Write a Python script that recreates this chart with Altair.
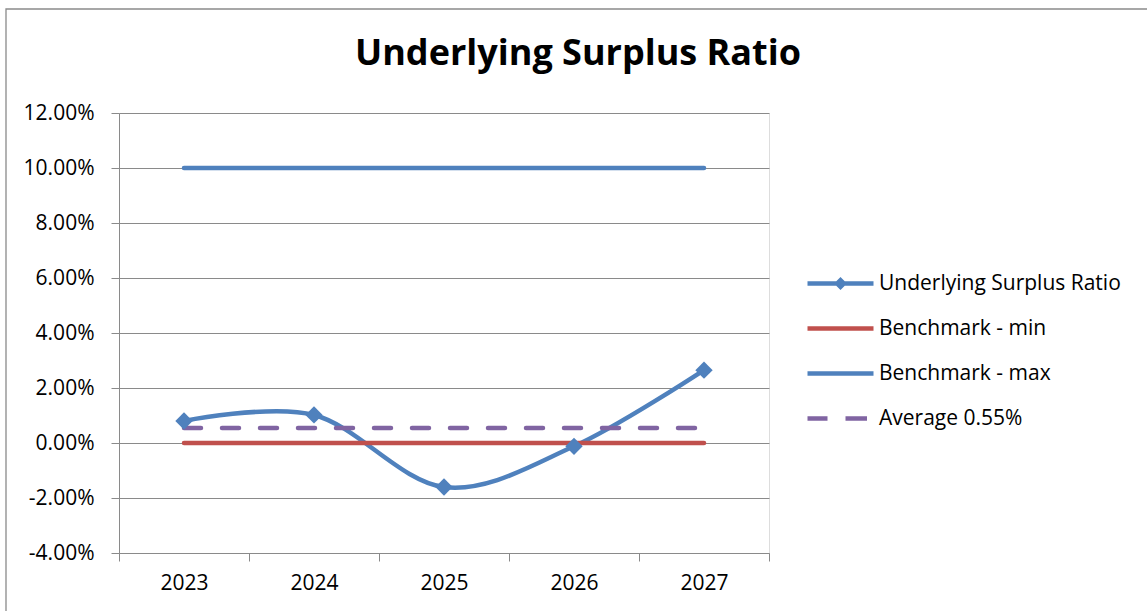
import altair as alt
import pandas as pd

# ---- data -------------------------------------------------------------
years = ["2023", "2024", "2025", "2026", "2027"]
surplus_ratio = [0.0080, 0.0102, -0.0160, -0.0012, 0.0265]
benchmark_min = [0.0, 0.0, 0.0, 0.0, 0.0]
benchmark_max = [0.10, 0.10, 0.10, 0.10, 0.10]
average_value = 0.0055
average_line = [average_value] * len(years)

series_names = [
    "Underlying Surplus Ratio",
    "Benchmark - min",
    "Benchmark - max",
    f"Average {average_value:.2%}",
]
series_values = [surplus_ratio, benchmark_min, benchmark_max, average_line]
series_colors = ["#4F81BD", "#C0504D", "#4F81BD", "#8064A2"]

# legend keys drawn as custom symbol paths (line + diamond, plain lines, dashes)
legend_paths = [
    "M-6.6,-0.45L6.6,-0.45L6.6,0.45L-6.6,0.45Z M0,-1.3L1.3,0L0,1.3L-1.3,0Z",
    "M-6.6,-0.45L6.6,-0.45L6.6,0.45L-6.6,0.45Z",
    "M-6.6,-0.45L6.6,-0.45L6.6,0.45L-6.6,0.45Z",
    "M-6.6,-0.45L-2.6,-0.45L-2.6,0.45L-6.6,0.45Z M1.0,-0.45L5.3,-0.45L5.3,0.45L1.0,0.45Z",
]

rows = []
for name, vals in zip(series_names, series_values):
    for yr, v in zip(years, vals):
        rows.append({"year": yr, "series": name, "value": v})
df = pd.DataFrame(rows)

FONT = "Open Sans"
GRAY = "#8A8A8A"

x_scale = alt.Scale(type="band", domain=years, paddingInner=0, paddingOuter=0)
y_scale = alt.Scale(domain=[-0.04, 0.12], nice=False, zero=False)
color_scale = alt.Scale(domain=series_names, range=series_colors)

x_axis = alt.Axis(
    title=None, labelAngle=0, tickBand="extent", tickSize=8, tickColor=GRAY,
    domainColor=GRAY, labelFont=FONT, labelFontSize=21, labelColor="black",
    labelPadding=11, grid=False,
)
y_axis = alt.Axis(
    title=None, format=".2%", values=[-0.04, -0.02, 0, 0.02, 0.04, 0.06, 0.08, 0.10, 0.12],
    labelExpr="replace(datum.label, '\u2212', '-')",
    tickSize=8, tickColor=GRAY, domainColor=GRAY, grid=True, gridColor=GRAY,
    labelFont=FONT, labelFontSize=21, labelColor="black", labelPadding=17,
)

X = alt.X("year:N", scale=x_scale, axis=x_axis, sort=years)
Y = alt.Y("value:Q", scale=y_scale, axis=y_axis)


def series_line(i, **style):
    """One series as its own line layer with fixed colour."""
    return alt.Chart(df).transform_filter(
        alt.datum.series == series_names[i]
    ).mark_line(strokeWidth=4.5, strokeCap="round", color=series_colors[i], **style).encode(
        x=X, y=Y
    )


ratio_line = series_line(0, interpolate="cardinal")
min_line = series_line(1)
max_line = series_line(2)
avg_line = series_line(3, strokeDash=[17, 21])

markers = alt.Chart(df).transform_filter(
    alt.datum.series == series_names[0]
).mark_point(
    shape="diamond", filled=True, size=300, opacity=1, color=series_colors[0]
).encode(x=X, y=Y)

legend_kwargs = dict(
    title=None, orient="none", legendX=711, legendY=160,
    labelFont=FONT, labelFontSize=21, labelColor="black", labelLimit=500,
    labelOffset=28, symbolSize=100, symbolStrokeWidth=0, rowPadding=23,
)
# key layer: its points sit far outside the y domain and are clipped away,
# so only the legend it generates is visible
legend_layer = alt.Chart(df).transform_calculate(off="1").mark_point(
    filled=True, opacity=1, clip=True
).encode(
    x=X,
    y=alt.Y("off:Q", scale=y_scale, axis=y_axis),
    color=alt.Color("series:N", scale=color_scale, legend=alt.Legend(**legend_kwargs)),
    shape=alt.Shape(
        "series:N", scale=alt.Scale(domain=series_names, range=legend_paths),
        legend=alt.Legend(**legend_kwargs),
    ),
)

# outer chart frame
frame = alt.Chart(pd.DataFrame({"k": [0]})).mark_rect(
    fill="transparent", stroke=GRAY, strokeWidth=1.3
).encode(
    x=alt.value(-113), x2=alt.value(1100), y=alt.value(-104), y2=alt.value(560)
)

chart = alt.layer(
    frame, ratio_line, min_line, max_line, avg_line, markers, legend_layer
).properties(
    width=650,
    height=440,
    autosize=alt.AutoSizeParams(type="none"),
    padding={"left": 119, "top": 113, "right": 378, "bottom": 58},
    title=alt.TitleParams(
        "Underlying Surplus Ratio", font=FONT, fontSize=36, fontWeight="bold",
        color="black", anchor="middle", dx=134, offset=-65,
    ),
).configure_view(stroke=None).configure(background="white")

chart.save("out.html", embed_options={"renderer": "svg", "actions": False})
